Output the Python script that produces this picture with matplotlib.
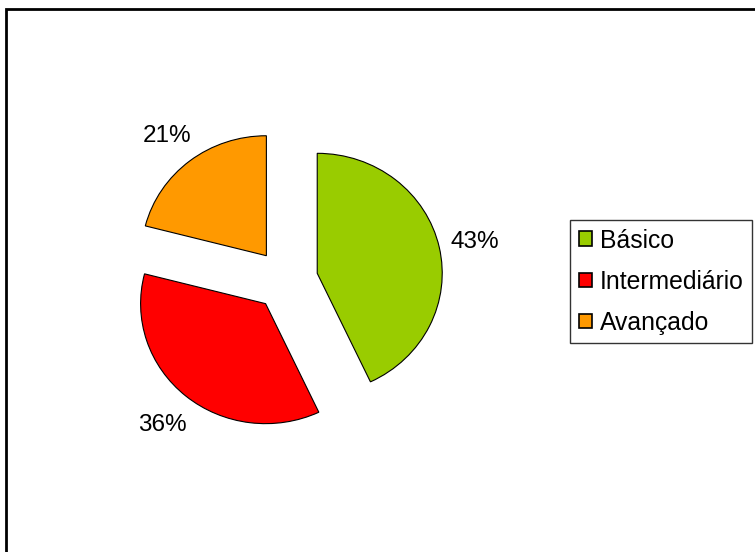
import matplotlib
matplotlib.use("Agg")
import matplotlib.pyplot as plt
import matplotlib.patches as mpatches

# Data
categories = ["Básico", "Intermediário", "Avançado"]
shares = [43, 36, 21]
colors = ["#99CC00", "#FF0000", "#FF9900"]

plt.rcParams["font.family"] = ["Liberation Sans", "DejaVu Sans"]

fig = plt.figure(figsize=(7.55, 5.52), dpi=100)

# outer chart frame (runs off right/bottom edges like the original)
frame = mpatches.Rectangle((6 / 755, -0.1), 1.2, 1 - 9 / 552 + 0.1,
                           transform=fig.transFigure, fill=False,
                           edgecolor="black", linewidth=2)
fig.patches.append(frame)

ax = fig.add_axes([44 / 755, 1 - 522 / 552, 484 / 755, 484 / 552])
wedges, texts = ax.pie(
    shares, colors=colors, startangle=90, counterclock=False,
    explode=[0.256] * 3,
    labels=[f"{v}%" for v in shares], labeldistance=1.29,
    wedgeprops=dict(edgecolor="black", linewidth=0.8),
    textprops=dict(fontsize=17.5),
)
for t in texts:
    t.set_horizontalalignment("center")
    t.set_verticalalignment("center_baseline")
# the original pie is slightly squashed vertically
ax.set_xlim(-1.936, 1.936)
ax.set_ylim(-2.017, 2.017)
ax.set_aspect("auto")
ax.axis("off")

handles = [mpatches.Patch(facecolor=c, edgecolor="black", linewidth=1.2, label=n)
           for n, c in zip(categories, colors)]
leg = fig.legend(handles=handles, loc="upper left",
                 bbox_to_anchor=(570 / 755, 1 - 220 / 552),
                 fontsize=17.8, frameon=True, fancybox=False,
                 handlelength=0.55, handleheight=0.55, handletextpad=0.3,
                 labelspacing=0.69, borderpad=0.35, borderaxespad=0)
leg.get_frame().set_edgecolor("black")
leg.get_frame().set_linewidth(1)

fig.savefig("out.png", dpi=100)
